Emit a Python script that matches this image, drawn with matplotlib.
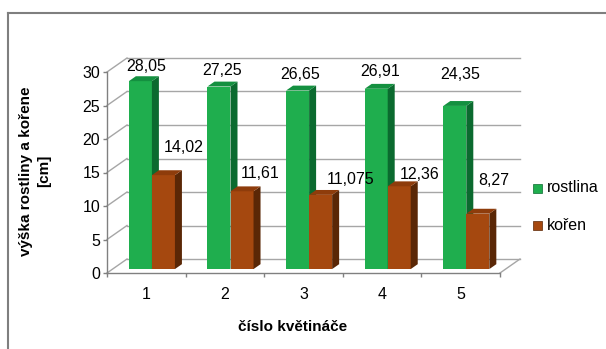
import matplotlib
matplotlib.use("Agg")
import matplotlib.pyplot as plt
from matplotlib.lines import Line2D
from matplotlib.patches import Rectangle

# ---- data ----
categories = ["1", "2", "3", "4", "5"]
series_names = ["rostlina", "kořen"]
rostlina = [28.05, 27.25, 26.65, 26.91, 24.35]
koren = [14.02, 11.61, 11.075, 12.36, 8.27]
y_ticks = [0, 5, 10, 15, 20, 25, 30]

# ---- style ----
face_colors = ["#1fae4e", "#a5480f"]
side_colors = ["#0b6a2f", "#5a2706"]
top_colors = ["#149040", "#8e3c0b"]
grid_color = "#a6a6a6"
axis_color = "#808080"
# value-label offsets in pixels (dx, dy) from the top centre of each bar face
label_shift = [
    [(6, 15), (3, 16), (3, 16), (4, 17), (5, 31)],
    [(20, 28), (18, 18), (30, 15), (20, 12), (16, 33)],
]

plt.rcParams["font.family"] = ["Liberation Sans", "DejaVu Sans"]

W, H = 606, 349
fig = plt.figure(figsize=(W / 100, H / 100), dpi=100)
fig.patch.set_facecolor("white")


def fx(px):
    return px / W


def fy(py):
    return 1 - py / H


# front plane: x 0..5 -> 107..500 px, y 0..30 -> 273..72 px
px_per_cat = 393 / 5
px_per_unit = 201 / 30
DX = 20 / px_per_cat      # depth shift of the back wall (category units)
DY = 14 / px_per_unit     # depth shift of the back wall (value units)

ax = fig.add_axes([fx(107), fy(273), 413 / W, 215 / H])
ax.set_xlim(0, 5 + DX)
ax.set_ylim(0, 30 + DY)
ax.set_facecolor("none")

for s in ["top", "right"]:
    ax.spines[s].set_visible(False)
ax.spines["left"].set_bounds(0, 30)
ax.spines["bottom"].set_bounds(0, 5)
for s in ["left", "bottom"]:
    ax.spines[s].set_color(axis_color)
    ax.spines[s].set_linewidth(1.0)

ax.set_yticks(y_ticks)
ax.set_yticklabels([str(t) for t in y_ticks], fontsize=11.5)
ax.tick_params(axis="y", length=2.9, width=1, color=axis_color, pad=2)
ax.set_xticks(range(len(categories) + 1))
ax.set_xticklabels([])
ax.tick_params(axis="x", which="major", length=2.9, width=1, color=axis_color)
ax.set_xticks([i + 0.5 for i in range(len(categories))], minor=True)
ax.set_xticklabels(categories, minor=True, fontsize=11.5)
ax.tick_params(axis="x", which="minor", length=0, pad=10)

# walls and floor
for v in y_ticks:
    ax.plot([0, DX], [v, v + DY], color=grid_color, lw=1, zorder=0.5, clip_on=False)
    ax.plot([DX, 5 + DX], [v + DY, v + DY], color=grid_color, lw=1, zorder=0.5,
            clip_on=False)
ax.plot([5, 5 + DX], [0, DY], color=grid_color, lw=1, zorder=0.5, clip_on=False)

# 3-D style bars
f = 0.28           # depth position of bar fronts
bd = 0.35          # bar depth as fraction of wall depth
bw = 0.293         # bar width (category units)
sdx, sdy = bd * DX, bd * DY
series = [rostlina, koren]
for i in range(len(categories)):
    for s, vals in enumerate(series):
        val = vals[i]
        xl = i + 0.5 - bw + s * bw + f * DX
        base = f * DY
        top = base + val
        z = 2 + s + i * 0.01
        ax.bar(xl, val, width=bw, bottom=base, align="edge",
               color=face_colors[s], linewidth=0, zorder=z)
        ax.fill([xl + bw, xl + bw + sdx, xl + bw + sdx, xl + bw],
                [base, base + sdy, top + sdy, top],
                color=side_colors[s], linewidth=0, zorder=z)
        ax.fill([xl, xl + bw, xl + bw + sdx, xl + sdx],
                [top, top, top + sdy, top + sdy],
                color=top_colors[s], linewidth=0, zorder=z)
        dx, dy = label_shift[s][i]
        ax.annotate(str(val).replace(".", ","), xy=(xl + bw / 2, top),
                    xytext=(dx, dy), textcoords="offset pixels",
                    ha="center", va="center", fontsize=11.5, zorder=10,
                    annotation_clip=False)

# axis titles
fig.text(fx(35), fy(171), "výška rostliny a kořene\n[cm]", rotation=90,
         ha="center", va="center", multialignment="center",
         fontweight="bold", fontsize=11, linespacing=1.3)
fig.text(fx(293), fy(327), "číslo květináče", ha="center", va="center",
         fontweight="bold", fontsize=11)

# legend
for k, name in enumerate(series_names):
    yc = 188 + 37 * k
    fig.add_artist(Rectangle((fx(533), fy(yc + 4.5)), 9 / W, 9 / H,
                             transform=fig.transFigure,
                             facecolor=face_colors[k], edgecolor=side_colors[k],
                             linewidth=0.5))
    fig.text(fx(547), fy(yc), name, ha="left", va="center", fontsize=11.5)

# chart-area frame
fig.add_artist(Line2D([fx(8), 1], [fy(13), fy(13)], transform=fig.transFigure,
                      color="#7f7f7f", lw=1.5))
fig.add_artist(Line2D([fx(8), fx(8)], [fy(13), 0], transform=fig.transFigure,
                      color="#7f7f7f", lw=1.5))

fig.savefig("out.png", dpi=100, facecolor="white")
